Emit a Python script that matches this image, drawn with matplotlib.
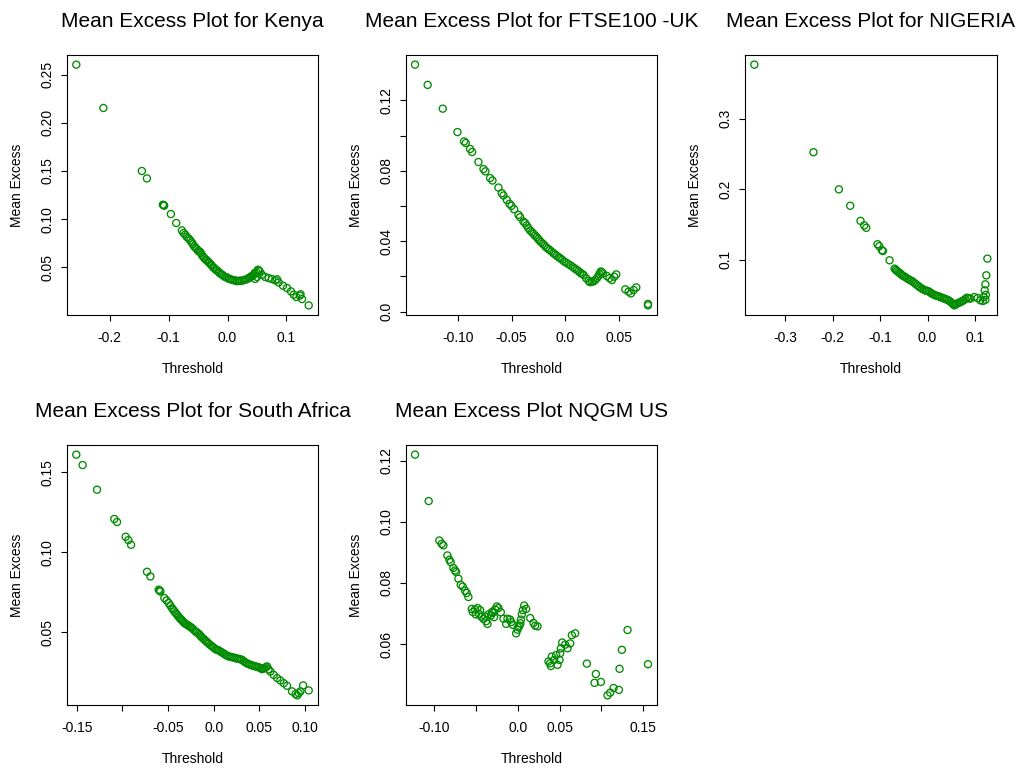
import matplotlib
matplotlib.use("Agg")
import matplotlib.pyplot as plt

plt.rcParams['font.family'] = ['Liberation Sans', 'DejaVu Sans']

POINT_COLOR = "#008B00"

# threshold / mean excess pairs for each market
kenya_x = [-0.257, -0.211, -0.1456, -0.137, -0.1099, -0.1077, -0.1085, -0.0963, -0.0872,
           -0.0776, -0.0748, -0.0692, -0.0634, -0.0606, -0.0566, -0.0521, -0.0475, -0.0436,
           -0.0396, -0.0351, -0.0305, -0.0266, -0.0226, -0.0181, -0.0135, -0.0090, -0.0039,
           0.0018, 0.0074, 0.0131, 0.0188, 0.0245, 0.0301, 0.0358, 0.0404, 0.0443, 0.0470,
           0.0489, 0.0500, 0.0517, 0.0530, 0.0546, 0.0585, 0.0642, 0.0699, 0.0755, 0.0812,
           0.0840, 0.0869, 0.0942, 0.1010, 0.1078, 0.1124, 0.1169, 0.1226, 0.1240, 0.1265,
           0.1379,
           -0.0720, -0.0660, -0.0590, -0.0545, -0.0500, -0.0455, -0.0415, -0.0370, -0.0325,
           -0.0285, -0.0245, -0.0200, -0.0155, -0.0110, -0.0065, -0.0010, 0.0045, 0.0100,
           0.0160, 0.0215, 0.0275, 0.0330, 0.0380, 0.0425, 0.0460]
kenya_y = [0.2604, 0.2154, 0.150, 0.1423, 0.1150, 0.1140, 0.1145, 0.1053, 0.0960,
           0.0883, 0.0856, 0.0815, 0.0779, 0.0758, 0.0717, 0.0689, 0.0665, 0.0630,
           0.0596, 0.0571, 0.0544, 0.0516, 0.0492, 0.0468, 0.0440, 0.0423, 0.0399,
           0.0382, 0.0371, 0.0364, 0.0361, 0.0364, 0.0371, 0.0388, 0.0406, 0.0423, 0.0380,
           0.0447, 0.0400, 0.0475, 0.0465, 0.0458, 0.0423, 0.0399, 0.0388, 0.0378, 0.0364,
           0.0375, 0.0343, 0.0309, 0.0285, 0.0250, 0.0216, 0.0192, 0.0206, 0.0220, 0.0171,
           0.0105,
           0.0840, 0.0800, 0.0740, 0.0705, 0.0670, 0.0650, 0.0610, 0.0580, 0.0555,
           0.0530, 0.0500, 0.0475, 0.0455, 0.0430, 0.0410, 0.0395, 0.0378, 0.0366,
           0.0356, 0.0358, 0.0366, 0.0378, 0.0395, 0.0412, 0.0440]

ftse_x = [-0.1402, -0.1284, -0.1143, -0.1006, -0.0944, -0.0928, -0.0888, -0.0869, -0.0810,
          -0.0763, -0.0745, -0.0701, -0.0679, -0.0623, -0.0592, -0.0576, -0.0545, -0.0520,
          -0.0502, -0.0477, -0.0436, -0.0421, -0.0390, -0.0374, -0.0343, -0.0327, -0.0296,
          -0.0265, -0.0240, -0.0209, -0.0178, -0.0146, -0.0109, -0.0078, -0.0047, -0.0009,
          0.0031, 0.0072, 0.0109, 0.0140, 0.0171, 0.0196, 0.0218, 0.0249, 0.0280, 0.0312,
          0.0333, 0.0352, 0.0389, 0.0414, 0.0436, 0.0458, 0.0477, 0.0561, 0.0592, 0.0614,
          0.0639, 0.0664, 0.0773, 0.0773,
          -0.0360, -0.0310, -0.0280, -0.0252, -0.0225, -0.0193, -0.0162, -0.0128, -0.0093,
          -0.0062, -0.0028, 0.0010, 0.0052, 0.0090, 0.0125, 0.0155, 0.0230, 0.0265, 0.0295,
          0.0320, 0.0340]
ftse_y = [0.1403, 0.1288, 0.1153, 0.1020, 0.0967, 0.0958, 0.0924, 0.0907, 0.0850,
          0.0810, 0.0797, 0.0759, 0.0745, 0.0705, 0.0673, 0.0660, 0.0635, 0.0613,
          0.0601, 0.0582, 0.0550, 0.0537, 0.0512, 0.0503, 0.0474, 0.0461, 0.0442,
          0.0423, 0.0404, 0.0386, 0.0366, 0.0351, 0.0332, 0.0317, 0.0304, 0.0285,
          0.0270, 0.0253, 0.0237, 0.0222, 0.0209, 0.0190, 0.0176, 0.0171, 0.0180, 0.0203,
          0.0228, 0.0218, 0.0203, 0.0190, 0.0180, 0.0199, 0.0212, 0.0127, 0.0114, 0.0104,
          0.0123, 0.0138, 0.0044, 0.0036,
          0.0490, 0.0452, 0.0432, 0.0413, 0.0395, 0.0376, 0.0358, 0.0342, 0.0325,
          0.0310, 0.0295, 0.0278, 0.0262, 0.0245, 0.0230, 0.0215, 0.0168, 0.0172, 0.0190,
          0.0215, 0.0225]

nigeria_x = [-0.3658, -0.241, -0.1873, -0.1634, -0.1416, -0.1338, -0.1296, -0.1057, -0.1021,
             -0.0964, -0.0943, -0.0803, -0.0697, -0.0648, -0.0592, -0.0535, -0.0472, -0.0402,
             -0.0331, -0.0261, -0.0190, -0.0120, -0.0049, 0.0021, 0.0092, 0.0162, 0.0233,
             0.0303, 0.0374, 0.0444, 0.0515, 0.0564, 0.0620, 0.0691, 0.0761, 0.0832, 0.0902,
             0.0987, 0.1057, 0.1114, 0.1170, 0.1184, 0.1205, 0.1219, 0.1240, 0.1262,
             -0.0672, -0.0620, -0.0563, -0.0505, -0.0437, -0.0366, -0.0296, -0.0225, -0.0155,
             -0.0085, -0.0014, 0.0056, 0.0127, 0.0198, 0.0268, 0.0339, 0.0409, 0.0480, 0.0540,
             0.0590, 0.0655, 0.0726, 0.0796, 0.0867, 0.1220, 0.1230]
nigeria_y = [0.3764, 0.2522, 0.1996, 0.1763, 0.1549, 0.1484, 0.1450, 0.1218, 0.1189,
             0.1132, 0.1122, 0.0990, 0.0872, 0.0839, 0.0810, 0.0777, 0.0753, 0.0720,
             0.0696, 0.0659, 0.0621, 0.0587, 0.0564, 0.0550, 0.0517, 0.0493, 0.0479,
             0.0460, 0.0441, 0.0422, 0.0384, 0.0351, 0.0375, 0.0398, 0.0422, 0.0460, 0.0446,
             0.0469, 0.0455, 0.0422, 0.0413, 0.0469, 0.0564, 0.0649, 0.0777, 0.1014,
             0.0855, 0.0825, 0.0795, 0.0765, 0.0737, 0.0708, 0.0678, 0.0640, 0.0604,
             0.0575, 0.0557, 0.0533, 0.0505, 0.0486, 0.0470, 0.0450, 0.0432, 0.0403, 0.0368,
             0.0362, 0.0386, 0.0410, 0.0441, 0.0453, 0.0430, 0.0500]

safrica_x = [-0.1504, -0.1435, -0.1277, -0.1088, -0.1058, -0.0964, -0.0934, -0.0905, -0.0730,
             -0.0693, -0.0602, -0.0584, -0.0540, -0.0493, -0.0456, -0.0430, -0.0401, -0.0372,
             -0.0346, -0.0321, -0.0292, -0.0263, -0.0237, -0.0201, -0.0164, -0.0139, -0.0109,
             -0.0080, -0.0054, -0.0018, 0.0018, 0.0055, 0.0091, 0.0128, 0.0164, 0.0201,
             0.0237, 0.0274, 0.0310, 0.0347, 0.0384, 0.0420, 0.0456, 0.0493, 0.0529, 0.0555,
             0.0584, 0.0620, 0.0657, 0.0694, 0.0730, 0.0767, 0.0803, 0.0858, 0.0896, 0.0915,
             0.0931, 0.0949, 0.0979, 0.1040,
             -0.0590, -0.0515, -0.0475, -0.0443, -0.0415, -0.0386, -0.0359, -0.0334, -0.0306,
             -0.0277, -0.0250, -0.0219, -0.0182, -0.0151, -0.0124, -0.0094, -0.0067, -0.0036,
             0.0000, 0.0036, 0.0073, 0.0110, 0.0146, 0.0183, 0.0219, 0.0256, 0.0292, 0.0329,
             0.0365, 0.0402, 0.0438, 0.0475, 0.0511, 0.0540, 0.0570, 0.0600]
safrica_y = [0.1611, 0.1546, 0.1392, 0.1209, 0.1190, 0.1098, 0.1077, 0.1048, 0.0879,
             0.0850, 0.0767, 0.0756, 0.0715, 0.0684, 0.0652, 0.0631, 0.0611, 0.0590,
             0.0575, 0.0559, 0.0548, 0.0538, 0.0527, 0.0507, 0.0492, 0.0475, 0.0459,
             0.0444, 0.0430, 0.0413, 0.0396, 0.0388, 0.0375, 0.0361, 0.0350, 0.0346,
             0.0340, 0.0335, 0.0329, 0.0313, 0.0302, 0.0294, 0.0288, 0.0283, 0.0271, 0.0277,
             0.0288, 0.0256, 0.0235, 0.0215, 0.0200, 0.0183, 0.0167, 0.0132, 0.0115, 0.0107,
             0.0121, 0.0132, 0.0169, 0.0138,
             0.0762, 0.0700, 0.0668, 0.0642, 0.0621, 0.0600, 0.0582, 0.0567, 0.0553,
             0.0543, 0.0532, 0.0517, 0.0500, 0.0483, 0.0467, 0.0451, 0.0437, 0.0421,
             0.0405, 0.0392, 0.0381, 0.0368, 0.0355, 0.0348, 0.0343, 0.0337, 0.0332, 0.0321,
             0.0307, 0.0298, 0.0291, 0.0285, 0.0277, 0.0274, 0.0283, 0.0270]

nqgm_x = [-0.1233, -0.1069, -0.0941, -0.0913, -0.0893, -0.0845, -0.0821, -0.0805, -0.0773,
          -0.0753, -0.0741, -0.0713, -0.0685, -0.0661, -0.0633, -0.0613, -0.0593, -0.0552,
          -0.0512, -0.0484, -0.0452, -0.0504, -0.0464, -0.0412, -0.0392, -0.0364, -0.0352,
          -0.0324, -0.0300, -0.0272, -0.0252, -0.0232, -0.0204, -0.0172, -0.0140, -0.0124,
          -0.0092, -0.0060, -0.0020, -0.0004, 0.0020, 0.0036, 0.0048, 0.0060, 0.0076,
          0.0100, 0.0148, 0.0188, 0.0208, 0.0236, 0.0368, 0.0388, 0.0396, 0.0408, 0.0436,
          0.0460, 0.0476, 0.0500, 0.0508, 0.0516, 0.0532, 0.0568, 0.0596, 0.0628, 0.0648,
          0.0688, 0.0828, 0.0936, 0.0920, 0.0996, 0.1076, 0.1108, 0.1148, 0.1212, 0.1220,
          0.1248, 0.1316, 0.1561,
          -0.0540, -0.0440, -0.0380, -0.0310, -0.0285, -0.0080, 0.0004, 0.0030]
nqgm_y = [0.1220, 0.1068, 0.0939, 0.0928, 0.0923, 0.0890, 0.0876, 0.0868, 0.0849,
          0.0841, 0.0836, 0.0814, 0.0794, 0.0788, 0.0775, 0.0767, 0.0754, 0.0715,
          0.0713, 0.0718, 0.0711, 0.0697, 0.0698, 0.0682, 0.0690, 0.0666, 0.0697,
          0.0693, 0.0702, 0.0713, 0.0723, 0.0718, 0.0704, 0.0683, 0.0666, 0.0683,
          0.0680, 0.0663, 0.0635, 0.0647, 0.0660, 0.0680, 0.0697, 0.0711, 0.0726,
          0.0715, 0.0685, 0.0669, 0.0660, 0.0658, 0.0543, 0.0537, 0.0528, 0.0559, 0.0548,
          0.0564, 0.0532, 0.0548, 0.0570, 0.0586, 0.0605, 0.0598, 0.0586, 0.0602, 0.0629,
          0.0635, 0.0536, 0.0502, 0.0473, 0.0476, 0.0432, 0.0441, 0.0456, 0.0450, 0.0519,
          0.0581, 0.0646, 0.0534,
          0.0705, 0.0690, 0.0675, 0.0705, 0.0688, 0.0672, 0.0655, 0.0668]

panels = [
    {"title": "Mean Excess Plot for Kenya", "x": kenya_x, "y": kenya_y,
     "xticks": [-0.2, -0.1, 0.0, 0.1], "xlabels": ["-0.2", "-0.1", "0.0", "0.1"],
     "yticks": [0.05, 0.10, 0.15, 0.20, 0.25],
     "ylabels": ["0.05", "0.10", "0.15", "0.20", "0.25"]},
    {"title": "Mean Excess Plot for FTSE100 -UK", "x": ftse_x, "y": ftse_y,
     "xticks": [-0.10, -0.05, 0.0, 0.05], "xlabels": ["-0.10", "-0.05", "0.0", "0.05"],
     "yticks": [0.0, 0.02, 0.04, 0.06, 0.08, 0.10, 0.12],
     "ylabels": ["0.0", "", "0.04", "", "0.08", "", "0.12"]},
    {"title": "Mean Excess Plot for NIGERIA", "x": nigeria_x, "y": nigeria_y,
     "xticks": [-0.3, -0.2, -0.1, 0.0, 0.1], "xlabels": ["-0.3", "-0.2", "-0.1", "0.0", "0.1"],
     "yticks": [0.1, 0.2, 0.3], "ylabels": ["0.1", "0.2", "0.3"]},
    {"title": "Mean Excess Plot for South Africa", "x": safrica_x, "y": safrica_y,
     "xticks": [-0.15, -0.10, -0.05, 0.0, 0.05, 0.10],
     "xlabels": ["-0.15", "", "-0.05", "0.0", "0.05", "0.10"],
     "yticks": [0.05, 0.10, 0.15], "ylabels": ["0.05", "0.10", "0.15"]},
    {"title": "Mean Excess Plot NQGM US", "x": nqgm_x, "y": nqgm_y,
     "xticks": [-0.10, -0.05, 0.0, 0.05, 0.10, 0.15],
     "xlabels": ["-0.10", "", "0.0", "0.05", "", "0.15"],
     "yticks": [0.06, 0.08, 0.10, 0.12], "ylabels": ["0.06", "0.08", "0.10", "0.12"]},
]

W, H = 1026, 769
# panel boxes in pixels: left, top, right, bottom
lefts = [67, 405.7, 745]
rights = [318, 657.3, 996.7]
tops = [55, 445]
bottoms = [315, 705]

fig = plt.figure(figsize=(W / 100, H / 100), dpi=100)

for i, p in enumerate(panels):
    r, c = divmod(i, 3)
    ax = fig.add_axes([lefts[c] / W, 1 - bottoms[r] / H,
                       (rights[c] - lefts[c]) / W, (bottoms[r] - tops[r]) / H])
    ax.scatter(p["x"], p["y"], s=26, facecolors="none", edgecolors=POINT_COLOR,
               linewidths=0.95)
    ax.margins(0.04)
    ax.set_xticks(p["xticks"])
    ax.set_xticklabels(p["xlabels"])
    ax.set_yticks(p["yticks"])
    ax.set_yticklabels(p["ylabels"], rotation=90, va="center")
    ax.tick_params(direction="out", length=4.2, width=0.8, labelsize=10)
    ax.tick_params(axis="x", pad=7.5)
    ax.tick_params(axis="y", pad=4.5)
    for sp in ax.spines.values():
        sp.set_linewidth(0.8)
    ax.set_xlabel("Threshold", fontsize=10)
    ax.set_ylabel("Mean Excess", fontsize=10)
    ax.xaxis.set_label_coords(0.5, -0.18)
    ax.yaxis.set_label_coords(-0.171, 0.5)
    ax.set_title(p["title"], fontsize=15, pad=20)

fig.savefig("out.png", dpi=100)
